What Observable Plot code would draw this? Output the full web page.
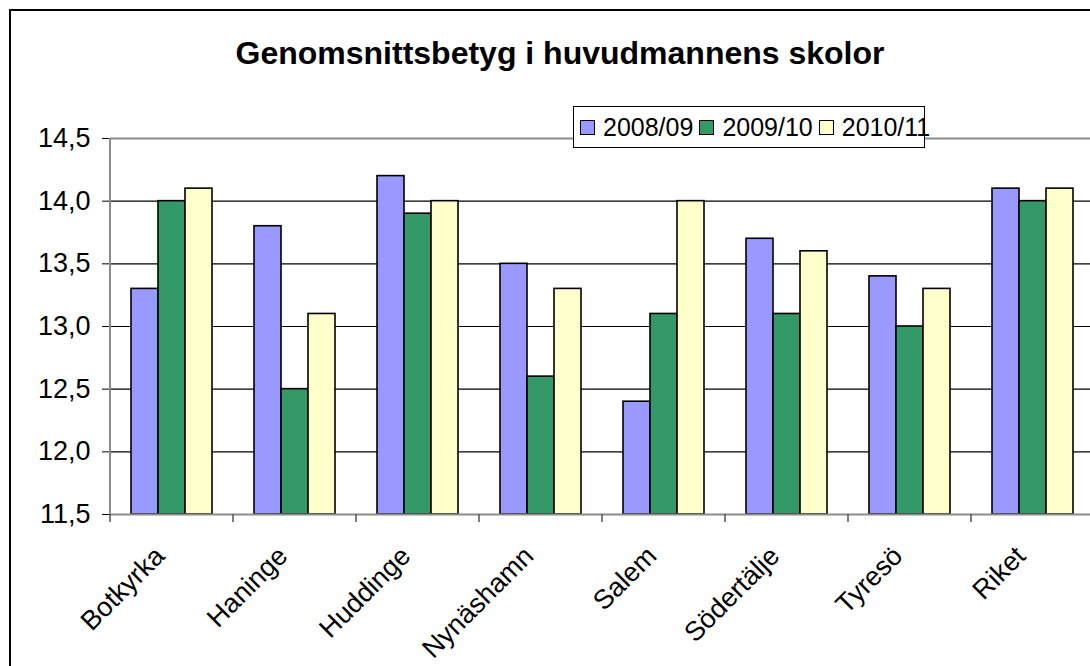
<!DOCTYPE html>
<html>
<head>
<meta charset="utf-8">
<script src="https://cdn.jsdelivr.net/npm/d3@7"></script>
<script src="https://cdn.jsdelivr.net/npm/@observablehq/plot@0.6"></script>
<style>
  html, body { margin: 0; padding: 0; background: #fff; overflow: hidden; }
  #wrap { position: relative; width: 1090px; height: 666px; overflow: hidden; font-family: "Liberation Sans", Arial, sans-serif; }
  #border { position: absolute; left: 9px; top: 9px; width: 1200px; height: 800px; border: 2px solid #000; box-sizing: border-box; pointer-events: none; }
  #title { position: absolute; left: 0; width: 1120px; top: 37px; text-align: center; font-weight: bold; font-size: 32px; line-height: 32px; color: #000; }
  #legend { position: absolute; left: 573px; top: 106px; width: 352px; height: 42px; box-sizing: border-box; border: 1.5px solid #000; background: #fff; display: flex; align-items: center; padding-left: 6px; font-size: 25px; color: #000; }
  .item { display: flex; align-items: center; margin-right: 6px; }
  .sw { width: 13px; height: 13px; border: 1.5px solid #000; margin-right: 8px; }
  #chart { position: absolute; left: 0; top: 0; width: 1100px; }
  #chart svg { max-width: none !important; }
</style>
</head>
<body>
<div id="wrap">
  <div id="chart"></div>
  <div id="border"></div>
  <div id="title">Genomsnittsbetyg i huvudmannens skolor</div>
  <div id="legend"></div>
</div>
<script>
const categories = ["Botkyrka", "Haninge", "Huddinge", "Nynäshamn", "Salem", "Södertälje", "Tyresö", "Riket"];
const seriesNames = ["2008/09", "2009/10", "2010/11"];
const v0809 = [13.3, 13.8, 14.2, 13.5, 12.4, 13.7, 13.4, 14.1];
const v0910 = [14.0, 12.5, 13.9, 12.6, 13.1, 13.1, 13.0, 14.0];
const v1011 = [14.1, 13.1, 14.0, 13.3, 14.0, 13.6, 13.3, 14.1];
const seriesColors = ["#9999FF", "#339966", "#FFFFCC"];
const yTicks = [11.5, 12.0, 12.5, 13.0, 13.5, 14.0, 14.5];

const seriesValues = [v0809, v0910, v1011];
const data = categories.flatMap((c, i) =>
  seriesNames.map((s, j) => ({category: c, series: s, value: seriesValues[j][i]}))
);
const fmt = d => d.toFixed(1).replace(".", ",");
const yMin = yTicks[0], yMax = yTicks[yTicks.length - 1];

const plot = Plot.plot({
  width: 1100,
  height: 666,
  marginLeft: 110,
  marginRight: 6,
  marginTop: 138,
  marginBottom: 152,
  style: {fontFamily: "'Liberation Sans', Arial, sans-serif", background: "transparent", color: "#000", maxWidth: "none"},
  fx: {domain: categories, padding: 0, label: null},
  x: {domain: seriesNames, paddingInner: 0, paddingOuter: 0.71, axis: null},
  y: {domain: [yMin, yMax], label: null},
  color: {domain: seriesNames, range: seriesColors},
  marks: [
    Plot.gridY(yTicks.slice(1, -1), {stroke: "#000", strokeOpacity: 1, strokeWidth: 1.2}),
    Plot.ruleY([yMax], {stroke: "#8c8c8c", strokeWidth: 2}),
    Plot.barY(data, {fx: "category", x: "series", y1: yMin, y2: "value", fill: "series", stroke: "#000", strokeWidth: 1.6}),
    Plot.ruleY([yMin], {stroke: "#8c8c8c", strokeWidth: 2}),
    Plot.axisY(yTicks, {tickFormat: fmt, fontSize: 27, tickSize: 8, tickPadding: 12, stroke: "#000", label: null}),
    Plot.axisFx({anchor: "bottom", tickSize: 0, tickPadding: 37, tickRotate: -45, fontSize: 27, dx: -12, label: null})
  ]
});

// Category-axis boundary ticks and the vertical value axis, placed through the plot's own scales
const fxS = plot.scale("fx"), yS = plot.scale("y");
const svg = d3.select(plot);
const yTop = yS.apply(yMax), yBot = yS.apply(yMin);
const bounds = categories.map(c => fxS.apply(c)).concat([fxS.apply(categories[categories.length - 1]) + fxS.bandwidth]);
svg.append("g").attr("stroke", "#555").attr("stroke-width", 1.5)
  .selectAll("line").data(bounds).join("line")
  .attr("x1", d => d).attr("x2", d => d).attr("y1", yBot).attr("y2", yBot + 8);
svg.append("line")
  .attr("x1", bounds[0]).attr("x2", bounds[0]).attr("y1", yTop).attr("y2", yBot)
  .attr("stroke", "#8c8c8c").attr("stroke-width", 2);

document.getElementById("chart").appendChild(plot);

const legend = document.getElementById("legend");
seriesNames.forEach((s, j) => {
  const item = document.createElement("div");
  item.className = "item";
  const sw = document.createElement("div");
  sw.className = "sw";
  sw.style.background = seriesColors[j];
  const t = document.createElement("span");
  t.textContent = s;
  item.appendChild(sw);
  item.appendChild(t);
  legend.appendChild(item);
});
</script>
</body>
</html>
